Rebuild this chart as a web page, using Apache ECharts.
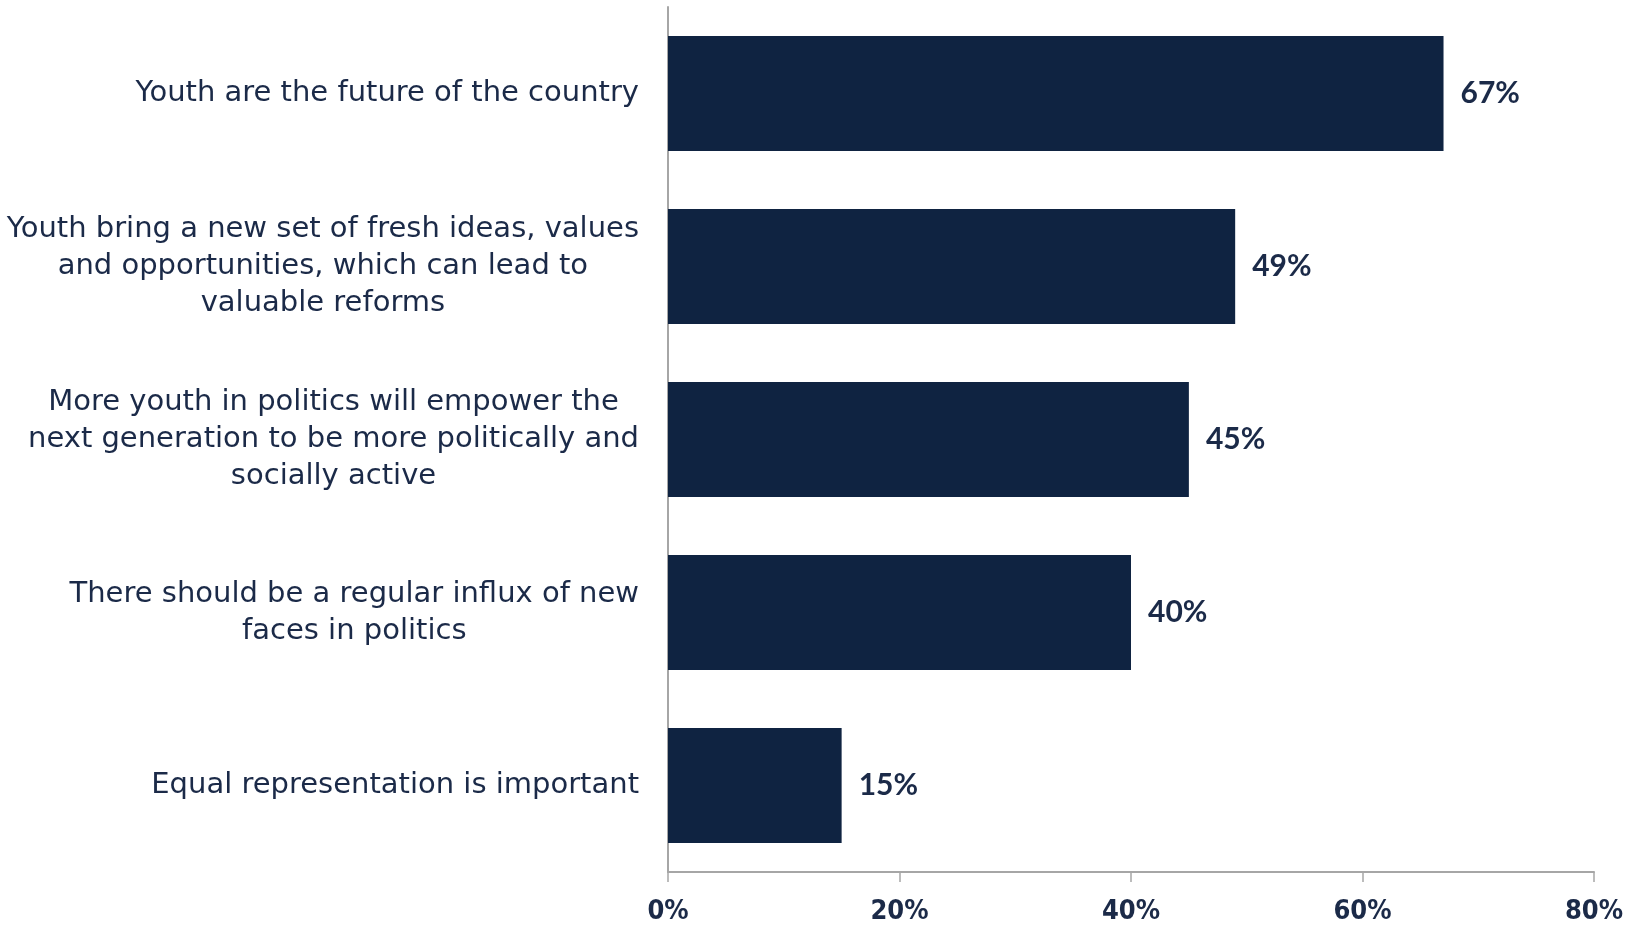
<!DOCTYPE html>
<html lang="en" style="height: 100%">

<head>
  <meta charset="utf-8" />
</head>

<body style="height: 100%; margin: 0; background: #fff">
  <div id="container" style="width: 1643px; height: 925px"></div>

  <script type="text/javascript" src="https://cdn.jsdelivr.net/npm/echarts@6/dist/echarts.min.js"></script>

  <script type="text/javascript">
    // chart data
    var categories = [
      "Youth are the future of the country",
      "Youth bring a new set of fresh ideas, values\nand opportunities, which can lead to\nvaluable reforms",
      "More youth in politics will empower the\nnext generation to be more politically and\nsocially active",
      "There should be a regular influx of new\nfaces in politics",
      "Equal representation is important"
    ];
    var values = [67, 49, 45, 40, 15];
    var tickValues = [0, 20, 40, 60, 80];

    var navy = "#0f2341";
    var textColor = "#1b2a48";

    var dom = document.getElementById("container");
    var myChart = echarts.init(dom, null, { renderer: "canvas" });

    var option = {
      animation: false,
      backgroundColor: "#ffffff",
      grid: { left: 668, right: 49, top: 7, bottom: 53 },
      xAxis: {
        type: "value",
        min: tickValues[0],
        max: tickValues[tickValues.length - 1],
        interval: 20,
        splitLine: { show: false },
        axisLine: { show: true, lineStyle: { color: "#a6a6a6", width: 2 } },
        axisTick: { show: true, length: 10, lineStyle: { color: "#a6a6a6", width: 1.5 } },
        axisLabel: {
          margin: 26,
          color: textColor,
          fontFamily: "'DejaVu Sans Condensed', sans-serif",
          fontWeight: "bold",
          fontSize: 27,
          formatter: function (v) { return v + "%"; }
        }
      },
      yAxis: {
        type: "category",
        inverse: true,
        data: categories,
        axisLine: { show: true, lineStyle: { color: "#a6a6a6", width: 2 } },
        axisTick: { show: false },
        axisLabel: {
          margin: 29,
          color: textColor,
          fontFamily: "'DejaVu Sans', sans-serif",
          fontSize: 29,
          lineHeight: 37,
          formatter: function (v) {
            return v.split("\n").map(function (l) { return "{c|" + l + "}"; }).join("\n");
          },
          rich: {
            c: {
              align: "center",
              color: textColor,
              fontFamily: "'DejaVu Sans', sans-serif",
              fontSize: 29,
              lineHeight: 37
            }
          }
        }
      },
      series: [
        {
          type: "bar",
          data: values,
          barCategoryGap: "33.5%",
          itemStyle: { color: navy },
          label: {
            show: true,
            position: "right",
            distance: 17,
            color: textColor,
            fontFamily: "Lato, sans-serif",
            fontWeight: "bold",
            fontSize: 30,
            formatter: "{c}%"
          }
        }
      ]
    };

    myChart.setOption(option);
    window.addEventListener("resize", myChart.resize);
  </script>
</body>

</html>
